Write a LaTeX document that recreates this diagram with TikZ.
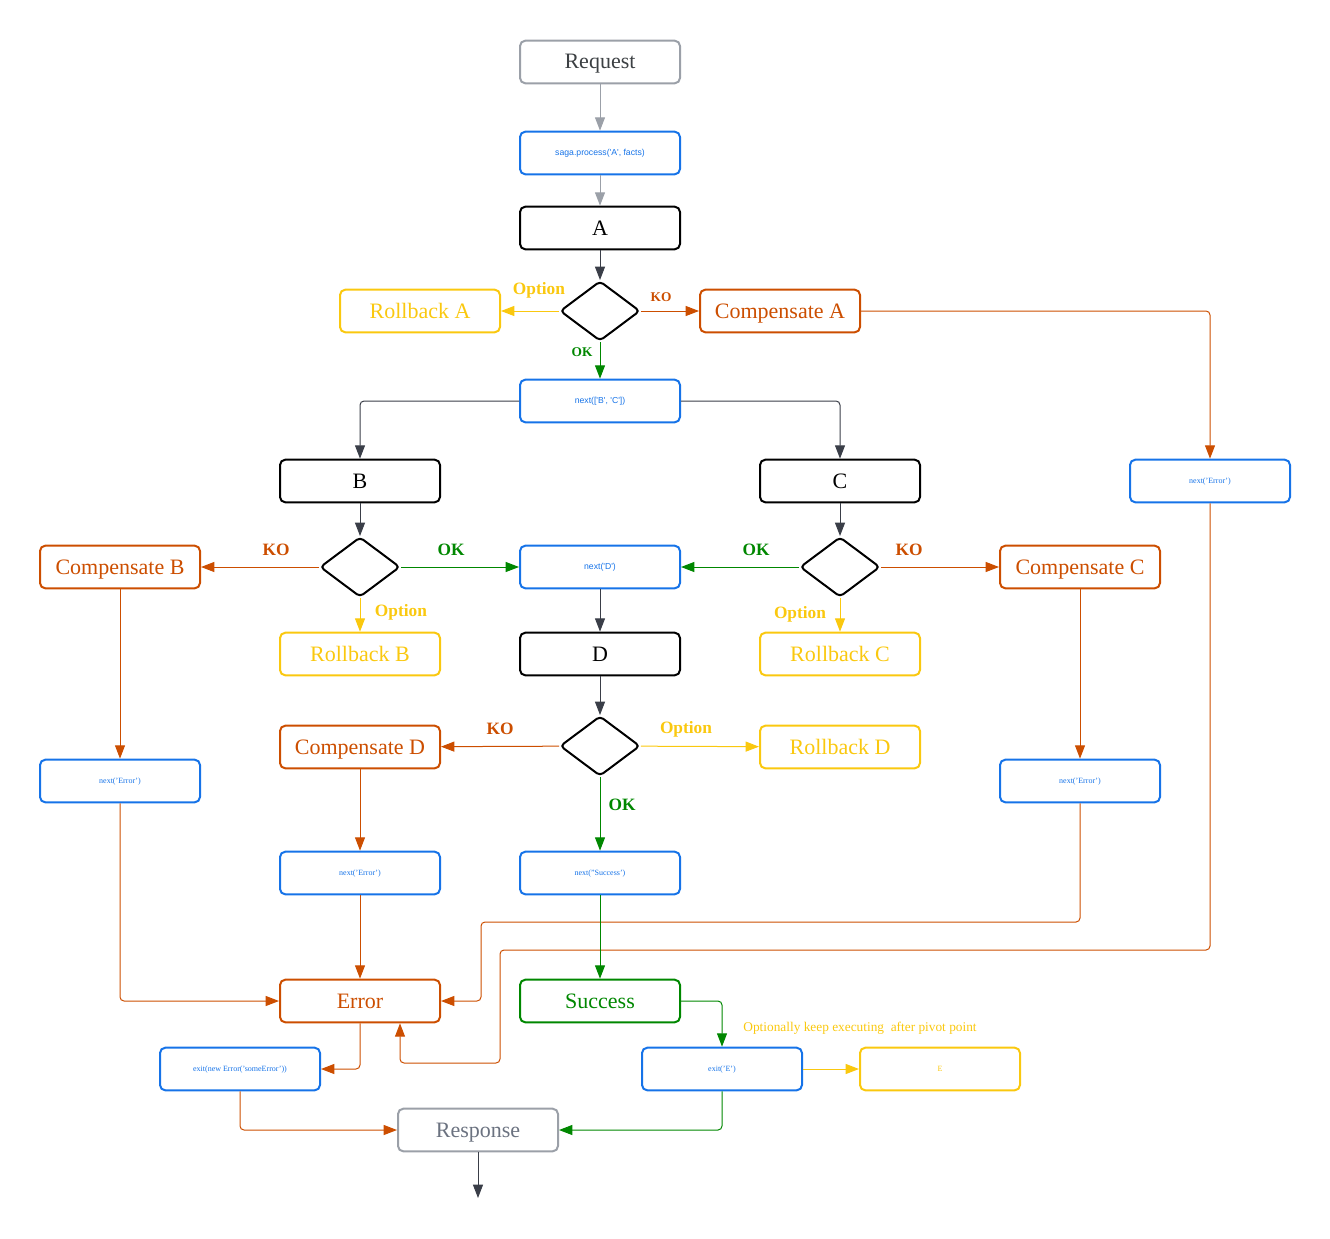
\documentclass[tikz,border=0pt]{standalone}
\usepackage{fontspec}
\setmainfont{Liberation Serif}
\newfontfamily\sansf{Liberation Sans}
\usetikzlibrary{arrows.meta,shapes.geometric}
\definecolor{cblue}{RGB}{22,115,232}
\definecolor{corange}{RGB}{204,78,0}
\definecolor{cyellow}{RGB}{250,200,15}
\definecolor{cgreen}{RGB}{0,135,0}
\definecolor{cgray}{RGB}{155,160,168}
\definecolor{ctext}{RGB}{60,64,67}
\definecolor{cdark}{RGB}{58,62,72}
\definecolor{cresp}{RGB}{107,114,128}
\tikzset{
  box/.style={draw, rounded corners=4pt, line width=1.5pt, minimum width=120pt, minimum height=32pt, inner sep=0pt, text height=12pt, text depth=1.5pt, font=\fontsize{16.5}{18}\selectfont},
  graybox/.style={box, draw=cgray, text=ctext},
  blackbox/.style={box, draw=black, text=black},
  orangebox/.style={box, draw=corange, text=corange},
  yellowbox/.style={box, draw=cyellow, text=cyellow},
  greenbox/.style={box, draw=cgreen, text=cgreen},
  bluebox/.style={box, draw=cblue, text=cblue, text height=5pt, text depth=1pt, font=\fontsize{6}{7}\selectfont},
  bluesans/.style={bluebox, font=\sansf\fontsize{6.5}{7}\selectfont},
  decision/.style={diamond, draw=black, line width=1.5pt, rounded corners=3pt, minimum width=60pt, minimum height=45pt, inner sep=0pt, aspect=1.33},
  conn/.style={line width=0.75pt, -{Triangle[length=10pt,width=7.5pt]}},
  garrow/.style={conn, draw=cgray, cgray},
  darrow/.style={conn, draw=cdark, cdark},
  oarrow/.style={conn, draw=corange, corange, rounded corners=3pt},
  yarrow/.style={conn, draw=cyellow, cyellow},
  gnarrow/.style={conn, draw=cgreen, cgreen, rounded corners=3pt},
  biglab/.style={font=\bfseries\fontsize{13}{15}\selectfont, inner sep=0pt},
  smalllab/.style={font=\bfseries\fontsize{10}{12}\selectfont, inner sep=0pt},
}
\begin{document}
\begin{tikzpicture}[x=0.75pt, y=-0.75pt]
\useasboundingbox (0,0) rectangle (1330,1238);
% nodes
\node[graybox] (req) at (600,62) {Request};
\node[bluesans] (saga) at (600,153) {saga.process('A', facts)};
\node[blackbox] (A) at (600,228) {A};
\node[decision] (dA) at (600,311) {};
\node[yellowbox] (rbA) at (420,311) {Rollback A};
\node[orangebox] (cpA) at (780,311) {Compensate A};
\node[bluesans] (nBC) at (600,401) {next(['B', 'C'])};
\node[blackbox] (B) at (360,481) {B};
\node[blackbox] (C) at (840,481) {C};
\node[bluebox] (errR) at (1210,481) {next('Error')};
\node[decision] (dB) at (360,567) {};
\node[orangebox] (cpB) at (120,567) {Compensate B};
\node[bluesans] (nD) at (600,567) {next('D')};
\node[decision] (dC) at (840,567) {};
\node[orangebox] (cpC) at (1080,567) {Compensate C};
\node[yellowbox] (rbB) at (360,654) {Rollback B};
\node[blackbox] (D) at (600,654) {D};
\node[yellowbox] (rbC) at (840,654) {Rollback C};
\node[orangebox] (cpD) at (360,747) {Compensate D};
\node[decision] (dD) at (600,746) {};
\node[yellowbox] (rbD) at (840,747) {Rollback D};
\node[bluebox] (errB) at (120,781) {next('Error')};
\node[bluebox] (errC) at (1080,781) {next('Error')};
\node[bluebox] (errD) at (360,873) {next('Error')};
\node[bluebox] (nS) at (600,873) {next("Success')};
\node[orangebox] (error) at (360,1001) {Error};
\node[greenbox] (succ) at (600,1001) {Success};
\node[bluebox] (exNE) at (240,1069) {exit(new Error('someError'))};
\node[bluebox] (exE) at (722,1069) {exit('E')};
\node[yellowbox, text height=5pt, text depth=1pt, font=\fontsize{6}{7}\selectfont] (E) at (940,1069) {E};
\node[graybox, text=cresp] (resp) at (478,1130) {Response};
\coordinate (out) at (478,1198);
% labels
\node[biglab, text=cyellow] (lOA) at (539,290) {Option};
\node[smalllab, text=corange] (lKA) at (661,297) {KO};
\node[smalllab, text=cgreen] (lOKA) at (582,352) {OK};
\node[biglab, text=corange] (lKB) at (276,550) {KO};
\node[biglab, text=cgreen] (lOKB) at (451,550) {OK};
\node[biglab, text=cgreen] (lOKC) at (756,550) {OK};
\node[biglab, text=corange] (lKC) at (909,550) {KO};
\node[biglab, text=cyellow] (lOB) at (401,612) {Option};
\node[biglab, text=cyellow] (lOC) at (800,614) {Option};
\node[biglab, text=corange] (lKD) at (500,729) {KO};
\node[biglab, text=cyellow] (lOD) at (686,729) {Option};
\node[biglab, text=cgreen] (lOKD) at (622,805) {OK};
\node[font=\fontsize{10}{12}\selectfont, text=cyellow, inner sep=0pt] (lpiv) at (860,1028) {Optionally keep executing\ \ after pivot point};
% connectors
\draw[garrow] (req) -- (saga);
\draw[garrow] (saga) -- (A);
\draw[darrow] (A) -- (dA);
\draw[yarrow] (dA) -- (rbA);
\draw[oarrow] (dA) -- (cpA);
\draw[gnarrow] (dA) -- (nBC);
\draw[darrow, rounded corners=3pt] (nBC.west) -| (B.north);
\draw[darrow, rounded corners=3pt] (nBC.east) -| (C.north);
\draw[oarrow] (cpA.east) -| (errR.north);
\draw[darrow] (B) -- (dB);
\draw[darrow] (C) -- (dC);
\draw[oarrow] (dB) -- (cpB);
\draw[gnarrow] (dB) -- (nD);
\draw[yarrow] (dB) -- (rbB);
\draw[gnarrow] (dC) -- (nD);
\draw[oarrow] (dC) -- (cpC);
\draw[yarrow] (dC) -- (rbC);
\draw[darrow] (nD) -- (D);
\draw[darrow] (D) -- (dD);
\draw[oarrow] (dD) -- (cpD);
\draw[yarrow] (dD) -- (rbD);
\draw[gnarrow] (dD) -- (nS);
\draw[oarrow] (cpB) -- (errB);
\draw[oarrow] (cpC) -- (errC);
\draw[oarrow] (cpD) -- (errD);
\draw[oarrow] (errB.south) |- (error.west);
\draw[oarrow] (errD) -- (error);
\draw[oarrow] (errC.south) |- (481,922) |- (error.east);
\draw[oarrow] (errR.south) |- (500,950) -- (500,1063) -| ([xshift=30pt]error.south);
\draw[oarrow] (error.south) |- (exNE.east);
\draw[oarrow] (exNE.south) |- (resp.west);
\draw[gnarrow] (nS) -- (succ);
\draw[gnarrow] (succ.east) -| (exE.north);
\draw[yarrow] (exE) -- (E);
\draw[gnarrow] (exE.south) |- (resp.east);
\draw[darrow] (resp) -- (out);
\end{tikzpicture}
\end{document}
